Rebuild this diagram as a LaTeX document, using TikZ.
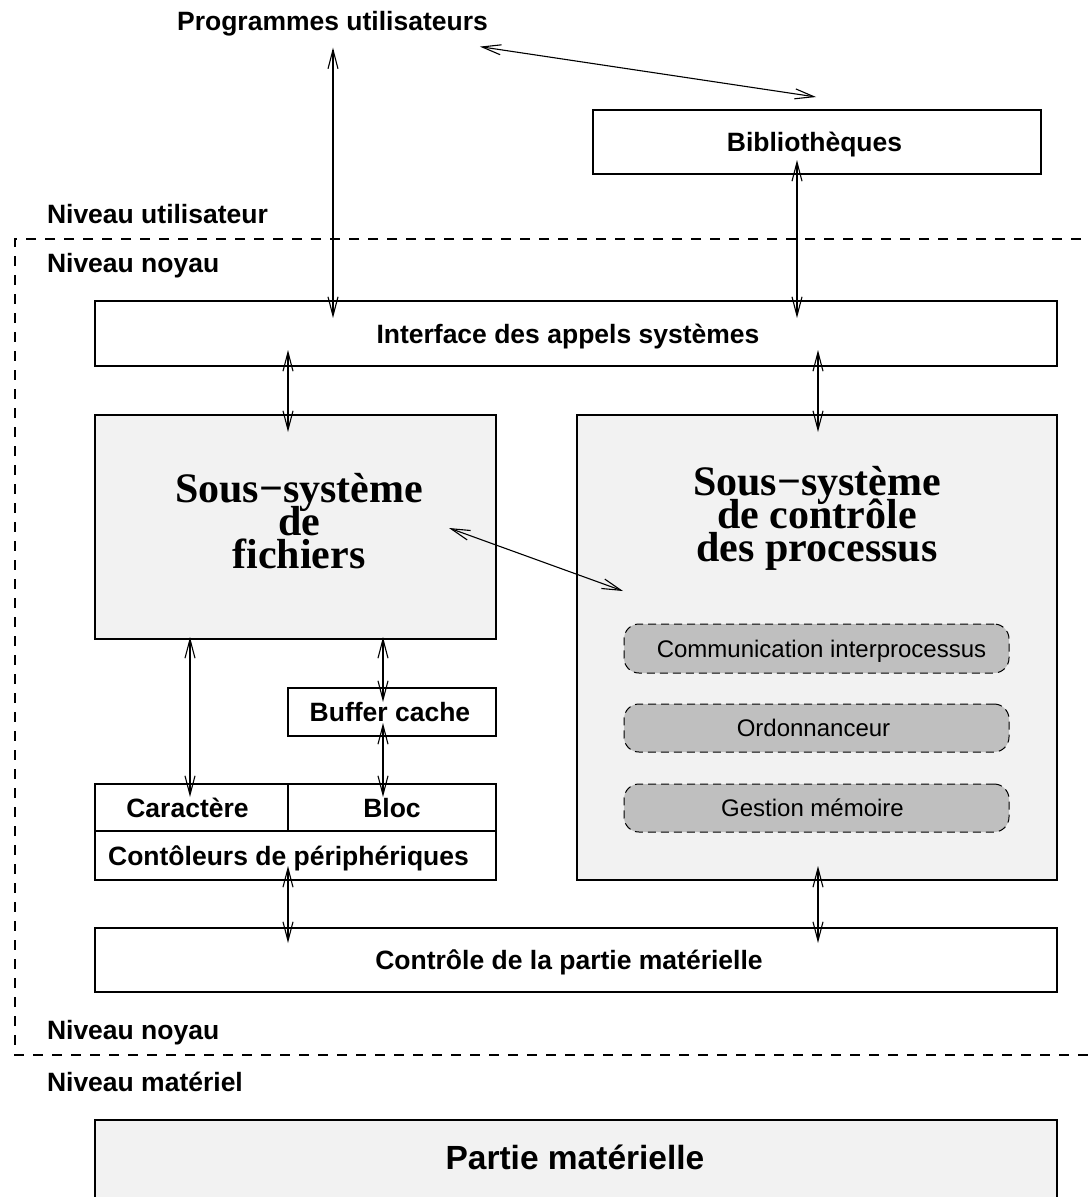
\documentclass[tikz,border=0pt]{standalone}
\usepackage{fontspec}
\setmainfont{Liberation Sans}
\newfontfamily\bigserif{Liberation Serif}
\usetikzlibrary{arrows.meta,calc}
\newcommand\tightlines{\lineskiplimit=-60pt\relax\lineskip=0pt\relax}

\tikzset{
  lbl/.style={font=\fontsize{26.5}{30}\selectfont\bfseries, inner sep=0pt, outer sep=0pt},
  box/.style={draw, line width=1.2pt, inner sep=0pt, outer sep=0pt, fill=white,
              text height=19pt, text depth=0pt,
              font=\fontsize{26.5}{30}\selectfont\bfseries},
  greybox/.style={box, fill=black!5},
  subbox/.style={draw, dash pattern=on 8pt off 5pt, line width=1pt, rounded corners=15pt,
                 fill=black!25, inner sep=0pt, outer sep=0pt,
                 text height=17pt, text depth=0pt,
                 minimum width=385pt, font=\fontsize{24}{28}\selectfont},
  bigtitle/.style={font=\bigserif\bfseries\fontsize{42}{33}\selectfont\tightlines,
                   align=center, inner sep=0pt},
  dbl/.style={{Straight Barb[length=19pt,width=10pt]}-{Straight Barb[length=19pt,width=10pt]},
              line width=1.1pt},
  levelline/.style={dash pattern=on 10pt off 9pt, line width=1.1pt}
}

\begin{document}
\begin{tikzpicture}[x=1pt,y=-1pt]
\useasboundingbox (0,0) rectangle (1088,1197);
\clip (0,0) rectangle (1088,1197);

% user level
\node[lbl, anchor=base] (prog) at (332.5,30) {Programmes utilisateurs};
\node[box, minimum width=448pt, minimum height=64pt] (lib) at (817,142) {Bibliothèques\hspace*{5pt}};
\node[lbl, anchor=base west] (lvuser) at (47,223) {Niveau utilisateur};

% kernel frame
\draw[levelline] (1100,239) -- (15,239) -- (15,1055) -- (1100,1055);
\node[lbl, anchor=base west] (lvkern) at (47,272) {Niveau noyau};
\node[lbl, anchor=base west] (lvkern2) at (47,1039) {Niveau noyau};
\node[lbl, anchor=base west] (lvhw) at (47,1091) {Niveau matériel};

% kernel blocks
\node[box, minimum width=962pt, minimum height=65pt] (iface) at (576,333.5) {Interface des appels systèmes\hspace*{16pt}};

\node[greybox, minimum width=401pt, minimum height=224pt] (fich) at (295.5,527) {};
% base anchor of a multi-line node sits on its last baseline
\node[bigtitle, anchor=base] (fichtxt) at (299,568) {Sous{\char"2212}système\\de\\fichiers};

\node[greybox, minimum width=480pt, minimum height=465pt] (ctrl) at (817,647.5) {};
\node[bigtitle, anchor=base] (ctrltxt) at (817,561) {Sous{\char"2212}système\\de contrôle\\des processus};

\node[subbox, minimum height=49pt] (ipc) at (816.5,648.5) {\hspace*{10pt}Communication interprocessus};
\node[subbox, minimum height=48pt] (sched) at (816.5,728) {Ordonnanceur\hspace*{6pt}};
\node[subbox, minimum height=48pt] (mem) at (816.5,808) {Gestion mémoire\hspace*{8pt}};

\node[box, minimum width=208pt, minimum height=48pt] (buf) at (392,712) {Buffer cache\hspace*{4pt}};
\node[box, minimum width=193pt, minimum height=47pt] (car) at (191.5,807.5) {Caractère\hspace*{8pt}};
\node[box, minimum width=208pt, minimum height=47pt] (bloc) at (392,807.5) {Bloc};
\node[box, minimum width=401pt, minimum height=49pt] (dev) at (295.5,855.5) {Contôleurs de périphériques\hspace*{14pt}};

\node[box, minimum width=962pt, minimum height=64pt] (hwc) at (576,960) {Contrôle de la partie matérielle\hspace*{14pt}};

% hardware
\node[greybox, minimum width=962pt, minimum height=84pt] (hw) at (576,1162) {};
\node[lbl, font=\fontsize{33.5}{38}\selectfont\bfseries, anchor=base] (hwtxt) at (575,1169) {Partie matérielle};

% connections
\draw[dbl] ($(prog.south)+(0.5,12)$) -- ($(iface.north -| prog.south)+(0.5,17)$);
\draw[dbl] ($(prog.south east)+(-8,11)$) -- ($(lib.north)+(-1,-13)$);
\draw[dbl] ($(lib.south)+(-20,-14)$) -- ($(iface.north -| lib.south)+(-20,17)$);
\draw[dbl] ($(iface.south -| fich.north)+(-7.5,-16)$) -- ($(fich.north)+(-7.5,17)$);
\draw[dbl] ($(iface.south -| ctrl.north)+(1,-16)$) -- ($(ctrl.north)+(1,17)$);
\draw[dbl] ($(fich.east)+(-47,1)$) -- ($(ctrl.west)+(46,-56.5)$);
\draw[dbl] ($(fich.south -| car.north)+(-1.5,-2)$) -- ($(car.north)+(-1.5,13)$);
\draw[dbl] ($(fich.south -| buf.north)+(-9,-2)$) -- ($(buf.north)+(-9,14)$);
\draw[dbl] ($(buf.south)+(-9,-13)$) -- ($(bloc.north)+(-9,13)$);
\draw[dbl] ($(dev.south)+(-7.5,-14)$) -- ($(hwc.north -| dev.south)+(-7.5,15)$);
\draw[dbl] ($(ctrl.south)+(1,-14)$) -- ($(hwc.north -| ctrl.south)+(1,15)$);
\end{tikzpicture}
\end{document}
